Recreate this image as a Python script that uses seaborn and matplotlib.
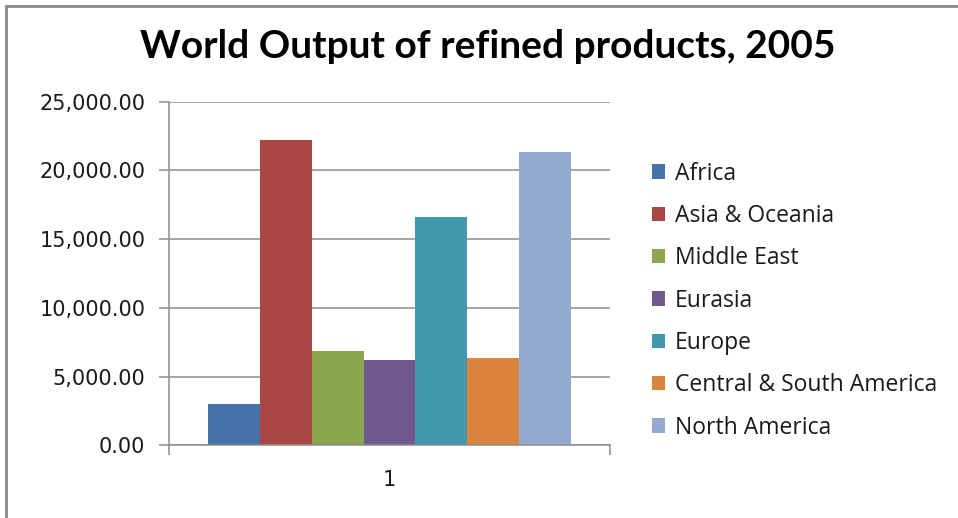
import matplotlib
matplotlib.use("Agg")
import matplotlib.pyplot as plt
import matplotlib.patches as mpatches
from matplotlib.ticker import FuncFormatter, FixedLocator
import pandas as pd
import seaborn as sns

regions = ["Africa", "Asia & Oceania", "Middle East", "Eurasia", "Europe",
           "Central & South America", "North America"]
output = [3030, 22210, 6840, 6180, 16610, 6380, 21310]
category = ["1"] * len(regions)
colors = ["#4572A7", "#AA4643", "#89A54E", "#71588F", "#4198AF", "#DB843D", "#93A9CF"]
y_ticks = [0, 5000, 10000, 15000, 20000, 25000]

df = pd.DataFrame({"category": category, "region": regions, "output": output})

sns.set_theme(style="white")
plt.rcParams["font.family"] = ["DejaVu Sans"]

fig = plt.figure(figsize=(9.58, 5.18), dpi=100)
ax = fig.add_axes([169 / 958, 1 - 445.3 / 518, (610 - 169) / 958, (445.3 - 101.7) / 518])

sns.barplot(data=df, x="category", y="output", hue="region", hue_order=regions,
            palette=dict(zip(regions, colors)), width=0.823, linewidth=0,
            saturation=1, ax=ax, legend=True)

ax.set_xlim(-0.5, 0.5)
ax.set_ylim(0, 25000)
ax.yaxis.set_major_locator(FixedLocator(y_ticks))
ax.yaxis.set_major_formatter(FuncFormatter(lambda v, p: f"{v:,.2f}"))
ax.grid(axis="y", color="#8c8c8c", linewidth=1.1)
ax.set_axisbelow(True)
ax.set_xlabel("")
ax.set_ylabel("")

for side in ["top", "right"]:
    ax.spines[side].set_visible(False)
for side in ["left", "bottom"]:
    ax.spines[side].set_color("#8c8c8c")
    ax.spines[side].set_linewidth(1.1)

ax.tick_params(axis="y", which="major", direction="out", length=7, width=1.1,
               color="#8c8c8c", left=True, labelsize=15, labelcolor="#1a1a1a", pad=10)
ax.tick_params(axis="x", which="major", length=0, labelsize=15, labelcolor="#1a1a1a", pad=18)
ax.set_xticks([-0.5, 0.5], minor=True)
ax.tick_params(axis="x", which="minor", direction="out", length=7, width=1.1,
               color="#8c8c8c", bottom=True)

handles, labels = ax.get_legend_handles_labels()
ax.get_legend().remove()
fig.legend(handles, labels, loc="upper left", bbox_to_anchor=(631 / 958, 1 - 141 / 518),
           frameon=False, prop={"family": "Open Sans", "size": 16.5},
           handlelength=0.6, handleheight=0.6, handletextpad=0.4,
           labelspacing=0.8, labelcolor="#1a1a1a")

fig.text(488 / 958, 1 - 47 / 518, "World Output of refined products, 2005",
         ha="center", va="center", fontsize=28, fontweight="bold",
         family="Lato", color="black")

fig.patches.append(mpatches.Rectangle((6 / 958, -0.1), 2, 1.1 - 6 / 518,
                                      transform=fig.transFigure, fill=False,
                                      edgecolor="#8a8a8a", linewidth=2))

fig.savefig("out.png", dpi=100, facecolor="white")
